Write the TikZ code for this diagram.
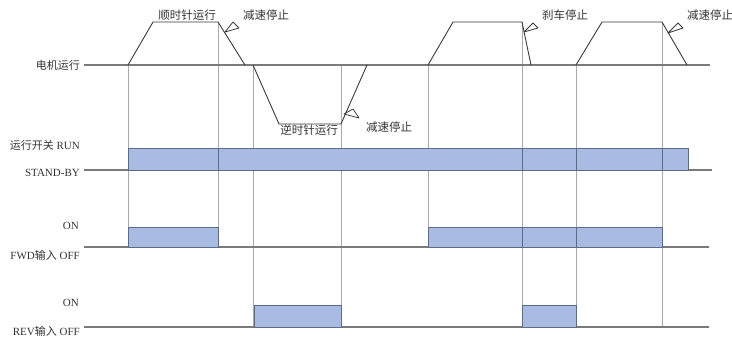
\documentclass[tikz,border=0pt]{standalone}
\usepackage{fontspec}
\setmainfont{Liberation Serif}
\newfontfamily\cjk{Noto Sans CJK SC}
\definecolor{barfill}{HTML}{A9BBE2}
\definecolor{barline}{HTML}{5E6B85}
\definecolor{vline}{HTML}{A8A8A8}
\definecolor{bline}{HTML}{7A7A7A}
\definecolor{wave}{HTML}{3A3A3A}
\definecolor{txt}{HTML}{333333}
\begin{document}
\begin{tikzpicture}[x=1pt,y=-1pt,
  base/.style={draw=bline, line width=1.1pt},
  vl/.style={draw=vline, line width=0.9pt},
  wv/.style={draw=wave, line width=0.9pt, line join=round},
  bar/.style={fill=barfill, draw=barline, line width=0.9pt},
  tri/.style={draw=wave, line width=0.8pt, line join=round},
  lbl/.style={inner sep=0pt, text=txt, font=\fontsize{11}{12}\selectfont},
  clbl/.style={lbl, font=\fontsize{11.5}{12}\cjk}]
\useasboundingbox (0,0) rectangle (732,343);
% vertical guide lines
\draw[vl] (128,65) -- (128,247);
\draw[vl] (218,22) -- (218,247);
\draw[vl] (253,65) -- (253,327);
\draw[vl] (341,65) -- (341,327);
\draw[vl] (428,65) -- (428,247);
\draw[vl] (522,22) -- (522,327);
\draw[vl] (576,65) -- (576,327);
\draw[vl] (662,22) -- (662,327);
% baselines
\draw[base] (84,65) -- (710,65);
\draw[base] (84,170) -- (712,170);
\draw[base] (84,247) -- (709,247);
\draw[base] (84,327) -- (709,327);
% motor waveform
\draw[wv] (128,65) -- (153,22) -- (218,22) -- (245,65);
\draw[wv] (253,65) -- (279,124) -- (341,124) -- (367,65);
\draw[wv] (428,65) -- (453,22) -- (522,22) -- (531,65);
\draw[wv] (576,65) -- (602,22) -- (662,22) -- (687,65);
% callout triangles
\draw[tri] (225,32) -- (233,22) -- (239,28) -- cycle;
\draw[tri] (344,114) -- (353,109) -- (359,118) -- cycle;
\draw[tri] (524,32) -- (533,23) -- (538,28) -- cycle;
\draw[tri] (668,33) -- (678,23) -- (683,28) -- cycle;
% bars
\draw[bar] (128,148) rectangle (688,170);
\draw[bar] (128,227) rectangle (218,247);
\draw[bar] (428,227) rectangle (662,247);
\draw[bar] (254,305) rectangle (341,327);
\draw[bar] (522,305) rectangle (576,327);
% redraw verticals through bars
\foreach \x in {218,522,576,662} \draw[draw=barline, line width=0.7pt] (\x,148) -- (\x,170);
\foreach \x in {522,576} \draw[draw=barline, line width=0.7pt] (\x,227) -- (\x,247);
% waveform labels
\node[clbl] (cw) at (187,15) {顺时针运行};
\node[clbl] (dec1) at (266,15) {减速停止};
\node[clbl] (ccw) at (309,130) {逆时针运行};
\node[clbl] (dec2) at (389,127) {减速停止};
\node[clbl] (brk) at (565,15) {刹车停止};
\node[clbl, anchor=west] (dec3) at (687,15) {减速停止};
% left labels
\node[lbl, anchor=east] (motor) at (80,65) {{\cjk 电机运行}};
\node[lbl, anchor=east] (run) at (80,145) {{\cjk 运行开关} RUN};
\node[lbl, anchor=east] (stby) at (80,173) {STAND-BY};
\node[lbl, anchor=east] (on1) at (79,226) {ON};
\node[lbl, anchor=east] (fwd) at (80,255) {FWD{\cjk 输入} OFF};
\node[lbl, anchor=east] (on2) at (79,303) {ON};
\node[lbl, anchor=east] (rev) at (80,331) {REV{\cjk 输入} OFF};
\end{tikzpicture}
\end{document}
